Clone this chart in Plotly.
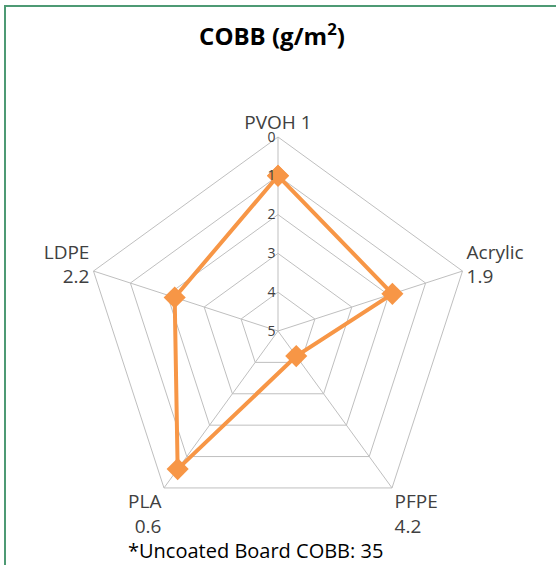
import plotly.graph_objects as go

categories = ["PVOH 1", "Acrylic", "PFPE", "PLA", "LDPE"]
values = [1.0, 1.9, 4.2, 0.6, 2.2]
show_value = [False, True, True, True, True]
radial_ticks = [0, 1, 2, 3, 4, 5]
title_text = "COBB (g/m<sup>2</sup>)"
footnote = "*Uncoated Board COBB: 35"

tick_text = [c + ("<br>" + f"{v:g}" if s else "") for c, v, s in zip(categories, values, show_value)]
NBSP = "\u00a0"

W, H = 556, 565
fig = go.Figure()
fig.add_trace(go.Scatterpolar(
    r=values + values[:1],
    theta=categories + categories[:1],
    mode="lines+markers",
    line=dict(color="#F79646", width=4),
    marker=dict(symbol="diamond", size=17, color="#F79646"),
    showlegend=False,
))

R = 194
cx, cy = 278, 331
fig.update_layout(
    width=W, height=H,
    margin=dict(l=0, r=0, t=0, b=0),
    paper_bgcolor="white",
    plot_bgcolor="white",
    font=dict(family="'Open Sans', sans-serif", color="#404040"),
    title=dict(text=title_text, x=272 / W, xanchor="center", y=1 - 37 / H, yanchor="middle",
               font=dict(size=24, color="#000000", family="'Open Sans', sans-serif", weight="bold")),
    polar=dict(
        domain=dict(x=[(cx - R) / W, (cx + R) / W], y=[1 - (cy + R) / H, 1 - (cy - R) / H]),
        bgcolor="white",
        gridshape="linear",
        angularaxis=dict(
            rotation=90, direction="clockwise",
            tickmode="array", tickvals=categories, ticktext=tick_text,
            tickfont=dict(size=19, color="#404040"),
            gridcolor="#BFBFBF", gridwidth=1,
            linecolor="#BFBFBF", linewidth=1, showline=True,
            ticks="",
        ),
        radialaxis=dict(
            range=[5, 0], tickvals=radial_ticks,
            angle=90, side="counterclockwise", tickangle=90,
            ticksuffix=NBSP * 14,
            tickfont=dict(size=14, color="#404040"),
            gridcolor="#BFBFBF", gridwidth=1,
            showline=False, ticks="",
        ),
    ),
    shapes=[dict(type="rect", xref="paper", yref="paper",
                 x0=5 / W, x1=1.05, y0=-0.05, y1=1 - 6 / H,
                 line=dict(color="#4E9A74", width=2), fillcolor="rgba(0,0,0,0)", layer="below")],
    annotations=[dict(text=footnote, x=255 / W, y=1 - 550 / H, xref="paper", yref="paper",
                      showarrow=False, xanchor="center", yanchor="middle",
                      font=dict(size=20, color="#000000"))],
)

fig.write_html("out.html", config={"displayModeBar": False},
               post_script="document.body.style.margin='0';")
